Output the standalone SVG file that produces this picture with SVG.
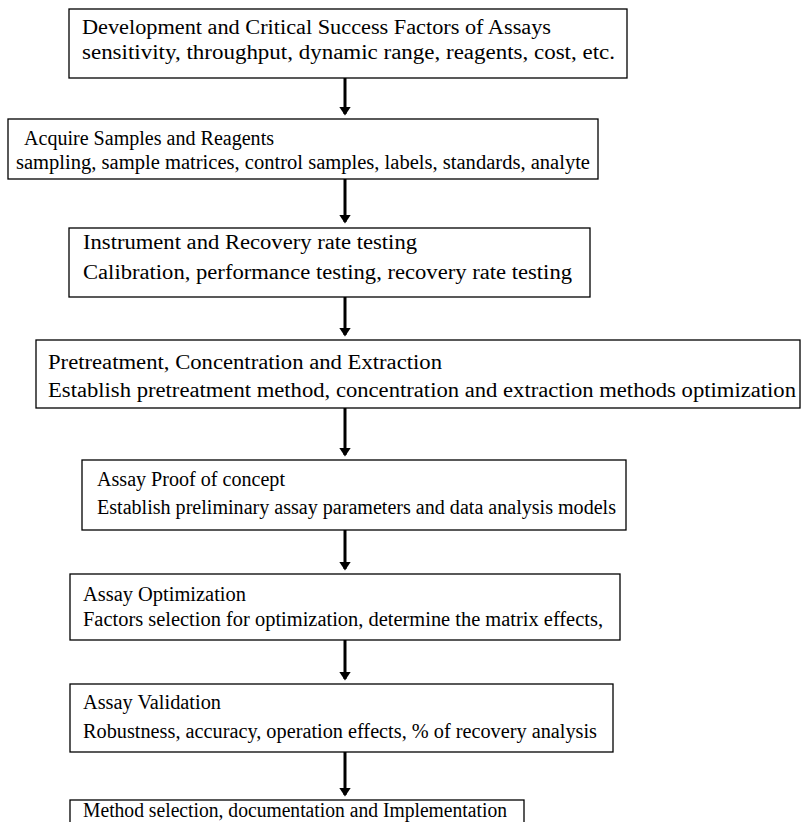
<svg xmlns="http://www.w3.org/2000/svg" width="804" height="822" viewBox="0 0 804 822">
<defs>
<style>
.box{fill:#fff;stroke:#000;stroke-width:1.3}
.c{stroke:#000;stroke-width:3;fill:none}
</style>
<marker id="ah" markerWidth="4" markerHeight="4" refX="2.5" refY="2" orient="auto" markerUnits="strokeWidth">
<path d="M0,0 L3,2 L0,4 Z" fill="#000"/>
</marker>
</defs>
<rect width="804" height="822" fill="#fff"/>
<g id="connectors">
<line class="c" x1="345" y1="78" x2="345" y2="114" marker-end="url(#ah)"/>
<line class="c" x1="345" y1="179" x2="345" y2="222" marker-end="url(#ah)"/>
<line class="c" x1="345" y1="297" x2="345" y2="335" marker-end="url(#ah)"/>
<line class="c" x1="345" y1="408" x2="345" y2="455" marker-end="url(#ah)"/>
<line class="c" x1="345" y1="530" x2="345" y2="569" marker-end="url(#ah)"/>
<line class="c" x1="345" y1="640" x2="345" y2="679" marker-end="url(#ah)"/>
<line class="c" x1="345" y1="752" x2="345" y2="795" marker-end="url(#ah)"/>
</g>
<g font-family="Liberation Serif, Times New Roman, serif" font-size="20" fill="#000">
<g id="n1"><rect class="box" x="69" y="9" width="558" height="69"/>
<text x="82" y="34" textLength="469" lengthAdjust="spacingAndGlyphs">Development and Critical Success Factors of Assays</text>
<text x="82" y="59" textLength="533" lengthAdjust="spacingAndGlyphs">sensitivity, throughput, dynamic range, reagents, cost, etc.</text></g>
<g id="n2"><rect class="box" x="8" y="119" width="590" height="60"/>
<text x="24" y="145" textLength="250" lengthAdjust="spacingAndGlyphs">Acquire Samples and Reagents</text>
<text x="16" y="169" textLength="574" lengthAdjust="spacingAndGlyphs">sampling, sample matrices, control samples, labels, standards, analyte</text></g>
<g id="n3"><rect class="box" x="69" y="228" width="521" height="69"/>
<text x="83" y="249" textLength="334" lengthAdjust="spacingAndGlyphs">Instrument and Recovery rate testing</text>
<text x="83" y="279" textLength="489" lengthAdjust="spacingAndGlyphs">Calibration, performance testing, recovery rate testing</text></g>
<g id="n4"><rect class="box" x="36" y="340" width="764" height="68"/>
<text x="48" y="369" textLength="394" lengthAdjust="spacingAndGlyphs">Pretreatment, Concentration and Extraction</text>
<text x="48" y="397" textLength="748" lengthAdjust="spacingAndGlyphs">Establish pretreatment method, concentration and extraction methods optimization</text></g>
<g id="n5"><rect class="box" x="82" y="460" width="544" height="70"/>
<text x="97" y="486" textLength="188" lengthAdjust="spacingAndGlyphs">Assay Proof of concept</text>
<text x="97" y="514" textLength="519" lengthAdjust="spacingAndGlyphs">Establish preliminary assay parameters and data analysis models</text></g>
<g id="n6"><rect class="box" x="70" y="574" width="550" height="66"/>
<text x="83" y="601" textLength="163" lengthAdjust="spacingAndGlyphs">Assay Optimization</text>
<text x="83" y="626" textLength="520" lengthAdjust="spacingAndGlyphs">Factors selection for optimization, determine the matrix effects,</text></g>
<g id="n7"><rect class="box" x="70" y="684" width="543" height="68"/>
<text x="83" y="709" textLength="138" lengthAdjust="spacingAndGlyphs">Assay Validation</text>
<text x="83" y="738" textLength="514" lengthAdjust="spacingAndGlyphs">Robustness, accuracy, operation effects, % of recovery analysis</text></g>
<g id="n8"><rect class="box" x="70" y="800" width="454" height="30"/>
<text x="83" y="817" textLength="424" lengthAdjust="spacingAndGlyphs">Method selection, documentation and Implementation</text></g>
</g>
</svg>
